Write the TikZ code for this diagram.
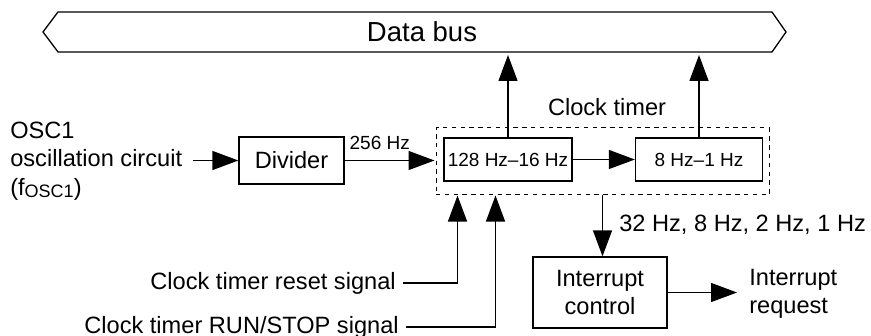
\documentclass[tikz,border=0pt]{standalone}
\usepackage{fontspec}
\setmainfont{Liberation Sans}
\usetikzlibrary{arrows.meta}
\newcommand{\mainsz}{\fontsize{11.8pt}{14.2pt}\selectfont}
\newcommand{\smallsz}{\fontsize{9.5pt}{11pt}\selectfont}
\newcommand{\bigsz}{\fontsize{13.75pt}{16pt}\selectfont}

\begin{document}
\begin{tikzpicture}[x=0.5pt, y=-0.5pt, font=\mainsz, line width=0.65pt,
  blk/.style={draw, fill=white, inner sep=0pt},
  arr/.style={-{Triangle[length=13pt,width=9.5pt]}},
  lbl/.style={inner sep=0pt}]
\useasboundingbox (0,0) rectangle (871,336);
\draw (43,32) -- (58,12) -- (772,12) -- (786,32) -- (772,52) -- (58,52) -- cycle;
\coordinate (busbot) at (415,52);
\node[lbl] (bus) at (422,32) {\bigsz Data bus};
\node[anchor=west, align=left] (osc) at (3,161) {OSC1\\oscillation circuit\\(f\raisebox{-0.15ex}{\fontsize{9pt}{10pt}\selectfont OSC1})};
\node[blk, minimum width=52.5pt, minimum height=23.5pt] (divider) at (291.5,160.5) {Divider};
\node[draw, dash pattern=on 2.2pt off 2.2pt, line width=0.5pt, minimum width=166.5pt, minimum height=33.5pt] (timer) at (602.5,161.5) {};
\node[blk, font=\smallsz, minimum width=64pt, minimum height=21.5pt] (ctrA) at (508,159.5) {128 Hz--16 Hz};
\node[blk, font=\smallsz, minimum width=63.5pt, minimum height=21.5pt] (ctrB) at (699,159.5) {8 Hz--1 Hz};
\node[] (timerlbl) at (607,107) {Clock timer};
\node[lbl, font=\smallsz, anchor=west] (hzlbl) at (349,143) {256 Hz};
\node[blk, align=center, minimum width=67pt, minimum height=35.5pt] (intctl) at (600,292.5) {Interrupt\\control};
\node[anchor=west, align=left] (req) at (742,294) {Interrupt\\request};
\node[anchor=west] (freqlbl) at (612,225) {32 Hz, 8 Hz, 2 Hz, 1 Hz};
\node[anchor=east] (rst) at (403,283) {Clock timer reset signal};
\node[anchor=east] (runstop) at (406,327) {Clock timer RUN/STOP signal};
\draw[arr, shorten <=2pt] (osc.east |- divider.west) -- (divider.west);
\draw[arr, shorten >=0.5pt] (divider.east) -- (timer.west |- divider.east);
\draw[arr] (ctrA.east) -- (ctrB.west);
\draw[arr, shorten >=1.5pt] (ctrA.north) -- (ctrA.north |- busbot);
\draw[arr, shorten >=1.5pt] (ctrB.north) -- (ctrB.north |- busbot);
\draw[arr] (rst.east) -| ([xshift=11pt]timer.south west);
\draw[arr] (runstop.east) -| ([xshift=30pt]timer.south west);
\draw[arr] (timer.south) -- (timer.south |- intctl.north);
\draw[arr, shorten >=2.5pt] (intctl.east) -- (intctl.east -| req.west);
\end{tikzpicture}
\end{document}
